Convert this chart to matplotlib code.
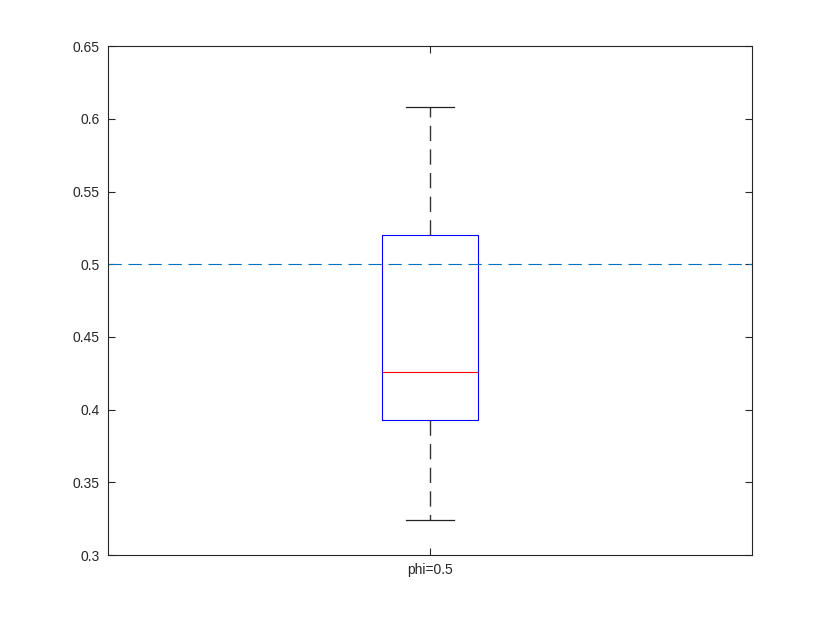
import matplotlib
matplotlib.use("Agg")
import matplotlib.pyplot as plt

# box summary
labels = ["phi=0.5"]
whisker_low = [0.3238]
q1 = [0.3928]
median = [0.4258]
q3 = [0.5201]
whisker_high = [0.6078]
ref_level = 0.5

plt.rcParams['font.family'] = ['Liberation Sans', 'DejaVu Sans']

fig = plt.figure(figsize=(8.3, 6.23), dpi=100)
ax = fig.add_axes([0.13, 0.109, 0.776, 0.817])

stats = []
for i in range(len(labels)):
    stats.append({
        "label": labels[i], "whislo": whisker_low[i], "q1": q1[i],
        "med": median[i], "q3": q3[i], "whishi": whisker_high[i], "fliers": [],
    })

ax.bxp(stats, positions=[1], widths=0.15, showfliers=False,
       boxprops=dict(color="blue", linewidth=0.8),
       medianprops=dict(color="red", linewidth=0.8),
       whiskerprops=dict(color="#333333", linewidth=1.0, linestyle=(0, (11, 6))),
       capprops=dict(color="#222222", linewidth=0.9),
       capwidths=0.075)

ax.axhline(ref_level, color="#0072BD", linewidth=0.8, linestyle=(0, (12, 6)))

ax.set_xlim(0.5, 1.5)
ax.set_ylim(0.3, 0.65)
ax.set_yticks([0.3, 0.35, 0.4, 0.45, 0.5, 0.55, 0.6, 0.65])
ax.set_yticklabels(["0.3", "0.35", "0.4", "0.45", "0.5", "0.55", "0.6", "0.65"])
ax.set_xticks([1])
ax.set_xticklabels(labels)

for s in ax.spines.values():
    s.set_color("#262626")
    s.set_linewidth(0.8)
ax.tick_params(direction="in", length=5, width=0.8, color="#262626",
               labelcolor="#262626", labelsize=10,
               top=True, right=True, pad=6)

fig.savefig("out.png", dpi=100)
